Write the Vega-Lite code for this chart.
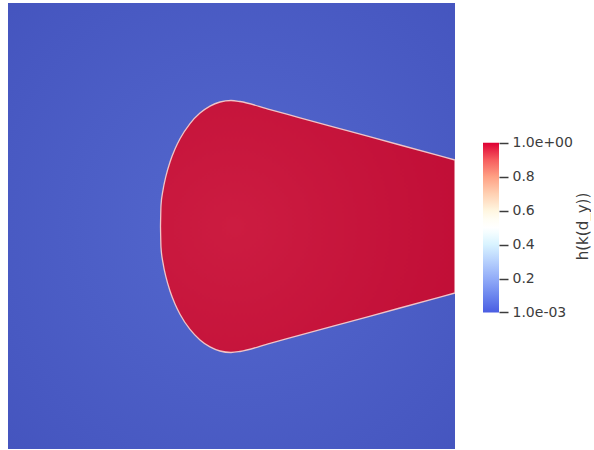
{
  "$schema": "https://vega.github.io/schema/vega-lite/v6.json",
  "background": "white",
  "padding": {"left": 8, "top": 3, "right": 0, "bottom": 0},
  "config": {"view": {"stroke": null}, "concat": {"spacing": 28}, "font": "DejaVu Sans"},
  "hconcat": [
    {
      "width": 447,
      "height": 446,
      "layer": [
        {
          "data": {"values": [{"part": "field"}]},
          "mark": {
            "type": "rect",
            "fill": {
              "gradient": "radial",
              "x1": 0.52, "y1": 0.5, "r1": 0,
              "x2": 0.52, "y2": 0.5, "r2": 0.75,
              "stops": [
                {"offset": 0, "color": "#5468ce"},
                {"offset": 1, "color": "#4454be"}
              ]
            }
          },
          "encoding": {}
        },
        {
          "data": {
            "values": [
              {"x": 152.5, "top": 223.5, "bot": 223.5},
              {"x": 153, "top": 202.5, "bot": 244.5},
              {"x": 155, "top": 187.2, "bot": 259.8},
              {"x": 158, "top": 172.8, "bot": 274.2},
              {"x": 162, "top": 159, "bot": 288},
              {"x": 167, "top": 146, "bot": 301},
              {"x": 172, "top": 135.8, "bot": 311.2},
              {"x": 182, "top": 120.6, "bot": 326.4},
              {"x": 192, "top": 110.1, "bot": 336.9},
              {"x": 202, "top": 103.1, "bot": 343.9},
              {"x": 212, "top": 99, "bot": 348},
              {"x": 223, "top": 97.5, "bot": 349.5},
              {"x": 232, "top": 98.5, "bot": 348.5},
              {"x": 262, "top": 106.7, "bot": 340.3},
              {"x": 292, "top": 114.8, "bot": 332.2},
              {"x": 342, "top": 128.4, "bot": 318.6},
              {"x": 392, "top": 142, "bot": 305},
              {"x": 447, "top": 157, "bot": 290}
            ]
          },
          "mark": {
            "type": "area",
            "interpolate": "monotone",
            "clip": true,
            "fill": {
              "gradient": "radial",
              "x1": 0.25, "y1": 0.5, "r1": 0,
              "x2": 0.25, "y2": 0.5, "r2": 0.9,
              "stops": [
                {"offset": 0, "color": "#cc1c41"},
                {"offset": 1, "color": "#bf0c35"}
              ]
            },
            "stroke": "#efc4c8",
            "strokeWidth": 1.3
          },
          "encoding": {
            "x": {"field": "x", "type": "quantitative", "scale": {"domain": [0, 447], "nice": false, "zero": false}, "axis": null},
            "y": {"field": "top", "type": "quantitative", "scale": {"domain": [0, 446], "reverse": true, "nice": false, "zero": false}, "axis": null},
            "y2": {"field": "bot"}
          }
        }
      ]
    },
    {
      "width": 16,
      "height": 446,
      "data": {"values": [{"lo": 0.001, "hi": 1}]},
      "mark": {
        "type": "rect",
        "fill": {
          "gradient": "linear",
          "x1": 0, "y1": 1, "x2": 0, "y2": 0,
          "stops": [
            {"offset": 0, "color": "#4a5de2"},
            {"offset": 0.1, "color": "#6c86ee"},
            {"offset": 0.2, "color": "#92acf8"},
            {"offset": 0.3, "color": "#b6d0fd"},
            {"offset": 0.4, "color": "#d8f3ff"},
            {"offset": 0.47, "color": "#f4fdff"},
            {"offset": 0.5, "color": "#ffffff"},
            {"offset": 0.55, "color": "#fffdf4"},
            {"offset": 0.6, "color": "#fff6e0"},
            {"offset": 0.7, "color": "#ffd0b2"},
            {"offset": 0.8, "color": "#ffa084"},
            {"offset": 0.9, "color": "#f65c5e"},
            {"offset": 1, "color": "#de0034"}
          ]
        }
      },
      "encoding": {
        "y": {
          "field": "lo",
          "type": "quantitative",
          "scale": {"domain": [-0.8021, 1.8219], "nice": false, "zero": false},
          "axis": {
            "orient": "right",
            "values": [0.001, 0.2, 0.4, 0.6, 0.8, 1],
            "labelExpr": "datum.value == 1 ? '1.0e+00' : (datum.value == 0.001 ? '1.0e-03' : format(datum.value, '.1f'))",
            "domain": false,
            "grid": false,
            "tickSize": 9,
            "tickWidth": 1.5,
            "tickColor": "#3c3c3c",
            "labelFontSize": 14,
            "labelColor": "#3c3c3c",
            "labelPadding": 4,
            "labelOverlap": false,
            "title": "h(k(d_y))",
            "titleAngle": 270,
            "titleFontSize": 15,
            "titleFontWeight": "normal",
            "titleColor": "#3c3c3c",
            "titlePadding": 18
          }
        },
        "y2": {"field": "hi"}
      }
    }
  ]
}
